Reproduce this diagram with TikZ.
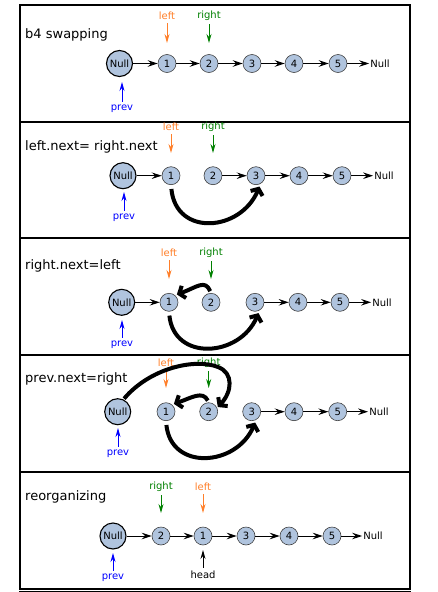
\documentclass[tikz,border=0pt]{standalone}
\usepackage{fontspec}
\setmainfont{DejaVu Sans}
\usetikzlibrary{arrows.meta}
\definecolor{nodefill}{HTML}{B0C4DE}
\definecolor{lorange}{HTML}{FF7F2A}
\definecolor{lgreen}{HTML}{008000}
\definecolor{lblue}{HTML}{0000FF}
\begin{document}
\begin{tikzpicture}[x=1pt,y=-1pt,
  every node/.style={font=\fontsize{10}{12}\selectfont},
  item/.style={circle,draw=black!75,line width=0.6pt,fill=nodefill,minimum size=18pt,inner sep=0pt},
  nullnode/.style={circle,draw=black,line width=1.1pt,fill=nodefill,minimum size=26pt,inner sep=0pt},
  endtext/.style={inner sep=1pt},
  title/.style={anchor=west,font=\fontsize{13}{15}\selectfont,inner sep=0pt},
  link/.style={-{Stealth[length=10pt,width=6.5pt,inset=3.5pt]},line width=0.9pt},
  ptr/.style={-{Stealth[length=9pt,width=5pt,inset=3pt]},line width=0.9pt},
  big/.style={-{Straight Barb[length=5pt,width=13pt]},line width=4pt},
  frame/.style={line width=2pt}]
\useasboundingbox (0,0) rectangle (437,592);
\begin{scope}
\clip (0,0) rectangle (437,592);
\draw[frame] (20,5) rectangle (410,122);
\draw[frame] (20,122) rectangle (410,238);
\draw[frame] (20,238) rectangle (410,355);
\draw[frame] (20,355) rectangle (410,472);
\draw[frame] (20,472) rectangle (410,588.5);
\draw[frame] (20,592) rectangle (410,700);
\end{scope}

% ---------- panel 1 ----------
\node[title] (t1) at (25,35) {b4 swapping};
\node[nullnode] (an) at (119.5,63.5) {Null};
\node[item] (a1) at (167,63.5) {1};
\node[item] (a2) at (209,63.5) {2};
\node[item] (a3) at (252,63.5) {3};
\node[item] (a4) at (294,63.5) {4};
\node[item] (a5) at (338,63.5) {5};
\node[endtext] (ae) at (380,63.5) {Null};
\draw[link] (an) -- (a1);
\draw[link] (a1) -- (a2);
\draw[link] (a2) -- (a3);
\draw[link] (a3) -- (a4);
\draw[link] (a4) -- (a5);
\draw[link] (a5) -- (ae);
\node[text=lorange] (al) at (167,16) {left};
\coordinate (alt) at (167,43);
\draw[ptr,lorange] (al) -- (alt);
\node[text=lgreen] (ar) at (209,16) {right};
\coordinate (art) at (209,43);
\draw[ptr,lgreen] (ar) -- (art);
\node[text=lblue] (ap) at (122,109) {prev};
\coordinate (apt) at (122,82);
\draw[ptr,lblue] (ap) -- (apt);

% ---------- panel 2 ----------
\node[title] (t2) at (25,147) {left.next= right.next};
\node[nullnode] (bn) at (123,175.7) {Null};
\node[item] (b1) at (171,175.7) {1};
\node[item] (b2) at (213,175.7) {2};
\node[item] (b3) at (256,175.7) {3};
\node[item] (b4) at (299,175.7) {4};
\node[item] (b5) at (342,175.7) {5};
\node[endtext] (be) at (384,175.7) {Null};
\draw[link] (bn) -- (b1);
\draw[link] (b2) -- (b3);
\draw[link] (b3) -- (b4);
\draw[link] (b4) -- (b5);
\draw[link] (b5) -- (be);
\node[text=lorange] (bl) at (171,127) {left};
\coordinate (blt) at (171,153);
\draw[ptr,lorange] (bl) -- (blt);
\node[text=lgreen] (br) at (213,127) {right};
\coordinate (brt) at (213,153);
\draw[ptr,lgreen] (br) -- (brt);
\node[text=lblue] (bp) at (124,218) {prev};
\coordinate (bpt) at (124,192);
\draw[ptr,lblue] (bp) -- (bpt);
\draw[big,shorten <=4pt,shorten >=3pt] (b1.south) .. controls +(5,52) and +(-20,48) .. (b3.-60);

% ---------- panel 3 ----------
\node[title] (t3) at (25,266) {right.next=left};
\node[nullnode] (cn) at (121.7,302.3) {Null};
\node[item] (c1) at (169,302.3) {1};
\node[item] (c2) at (211,302.3) {2};
\node[item] (c3) at (255,302.3) {3};
\node[item] (c4) at (298,302.3) {4};
\node[item] (c5) at (340,302.3) {5};
\node[endtext] (ce) at (382,302.3) {Null};
\draw[link] (cn) -- (c1);
\draw[link] (c3) -- (c4);
\draw[link] (c4) -- (c5);
\draw[link] (c5) -- (ce);
\node[text=lorange] (cl) at (169,253) {left};
\coordinate (clt) at (169,279);
\draw[ptr,lorange] (cl) -- (clt);
\node[text=lgreen] (cr) at (211,253) {right};
\coordinate (crt) at (211,279);
\draw[ptr,lgreen] (cr) -- (crt);
\node[text=lblue] (cp) at (122,345) {prev};
\coordinate (cpt) at (122,320);
\draw[ptr,lblue] (cp) -- (cpt);
\draw[big,shorten <=2pt,shorten >=2pt] (c2.north) .. controls +(-6,-14) and +(22,-8) .. (c1.50);
\draw[big,shorten <=4pt,shorten >=3pt] (c1.south) .. controls +(5,50) and +(-20,47) .. (c3.-60);

% ---------- panel 4 ----------
\node[title] (t4) at (25,379) {prev.next=right};
\node[nullnode] (dn) at (117.7,411.7) {Null};
\node[item] (d1) at (166,411.7) {1};
\node[item] (d2) at (208.7,411.7) {2};
\node[item] (d3) at (251.7,411.7) {3};
\node[item] (d4) at (294,411.7) {4};
\node[item] (d5) at (337.7,411.7) {5};
\node[endtext] (de) at (379,411.7) {Null};
\draw[link] (d3) -- (d4);
\draw[link] (d4) -- (d5);
\draw[link] (d5) -- (de);
\node[text=lorange] (dl) at (166,363) {left};
\coordinate (dlt) at (166,388);
\draw[ptr,lorange] (dl) -- (dlt);
\node[text=lgreen] (dr) at (208.7,363) {right};
\coordinate (drt) at (208.7,388);
\draw[ptr,lgreen] (dr) -- (drt);
\node[text=lblue] (dp) at (118,454) {prev};
\coordinate (dpt) at (118,428);
\draw[ptr,lblue] (dp) -- (dpt);
\draw[big,shorten <=1pt,shorten >=1pt] (dn.65) .. controls (150,368) and (195,358) .. (218,367) .. controls (234,373) and (232,392) .. (d2.25);
\draw[big,shorten <=2pt,shorten >=2pt] (d2.north) .. controls +(-6,-12) and +(20,-7) .. (d1.50);
\draw[big,shorten <=4pt,shorten >=3pt] (d1.south) .. controls +(5,50) and +(-20,47) .. (d3.-60);

% ---------- panel 5 ----------
\node[title] (t5) at (25,497) {reorganizing};
\node[nullnode] (en) at (113,536) {Null};
\node[item] (e2) at (161,536) {2};
\node[item] (e1) at (203,536) {1};
\node[item] (e3) at (246,536) {3};
\node[item] (e4) at (289,536) {4};
\node[item] (e5) at (332,536) {5};
\node[endtext] (ee) at (373,536) {Null};
\draw[link] (en) -- (e2);
\draw[link] (e2) -- (e1);
\draw[link] (e1) -- (e3);
\draw[link] (e3) -- (e4);
\draw[link] (e4) -- (e5);
\draw[link] (e5) -- (ee);
\node[text=lgreen] (er) at (161,487) {right};
\coordinate (ert) at (161,513);
\draw[ptr,lgreen] (er) -- (ert);
\node[text=lorange] (el) at (203,487) {left};
\coordinate (elt) at (203,513);
\draw[ptr,lorange] (el) -- (elt);
\node[text=lblue] (ep) at (113,578) {prev};
\coordinate (ept) at (113,553);
\draw[ptr,lblue] (ep) -- (ept);
\node (eh) at (203,575) {head};
\coordinate (eht) at (203,550);
\draw[ptr] (eh) -- (eht);
\end{tikzpicture}
\end{document}
